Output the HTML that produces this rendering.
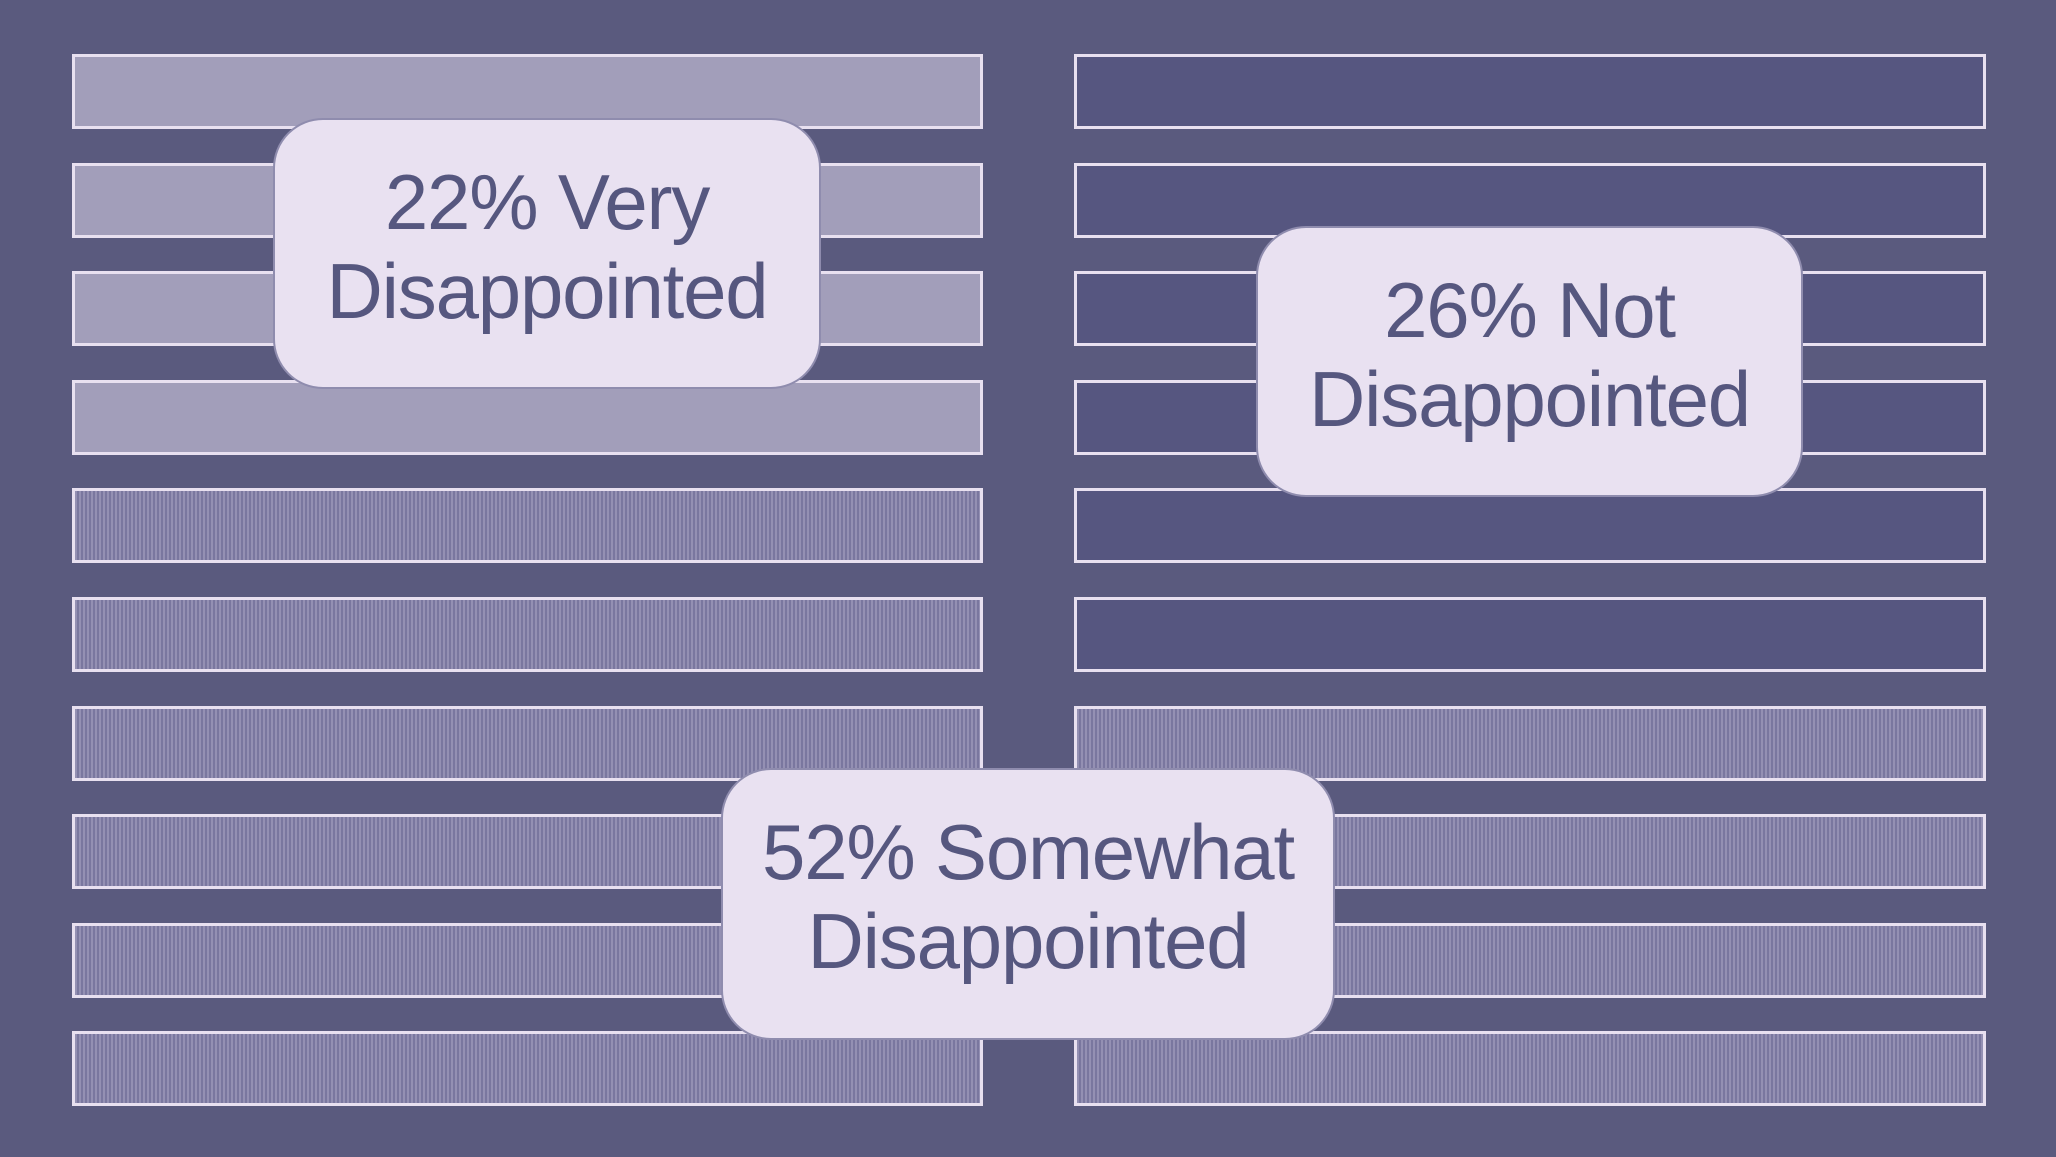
<!DOCTYPE html>
<html><head><meta charset="utf-8"><style>
html,body{margin:0;padding:0}
body{width:2056px;height:1157px;background:#5a5a7e;position:relative;overflow:hidden;font-family:"Liberation Sans",sans-serif}
.bar{position:absolute;height:69px;border:3px solid #e8e0f0;box-sizing:content-box}
.a{background:#a29eba}
.b{background:repeating-linear-gradient(90deg,#9490b3 0 2px,#7a779f 2px 4px)}
.c{background:#565680}
.box{position:absolute;background:#e9e1f1;border:2px solid #8f8cae;border-radius:50px;box-sizing:border-box;display:flex;align-items:center;justify-content:center;text-align:center;color:#56577f;font-size:78px;line-height:89px;padding-bottom:14px;letter-spacing:-1.2px}
</style></head><body>
<div id="bars"></div>
<script>
var h='';
for(var i=0;i<10;i++){
 var t=54+i*108.6;
 var l=i<4?'a':'b';
 var r=i<6?'c':'b';
 h+='<div class="bar '+l+'" style="left:72px;top:'+t+'px;width:905px"></div>';
 h+='<div class="bar '+r+'" style="left:1074px;top:'+t+'px;width:906px"></div>';
}
document.getElementById('bars').innerHTML=h;
</script>
<div class="box" style="left:273px;top:118px;width:548px;height:271px">22% Very<br>Disappointed</div>
<div class="box" style="left:1256px;top:226px;width:547px;height:271px">26% Not<br>Disappointed</div>
<div class="box" style="left:721px;top:768px;width:614px;height:272px">52% Somewhat<br>Disappointed</div>
</body></html>
